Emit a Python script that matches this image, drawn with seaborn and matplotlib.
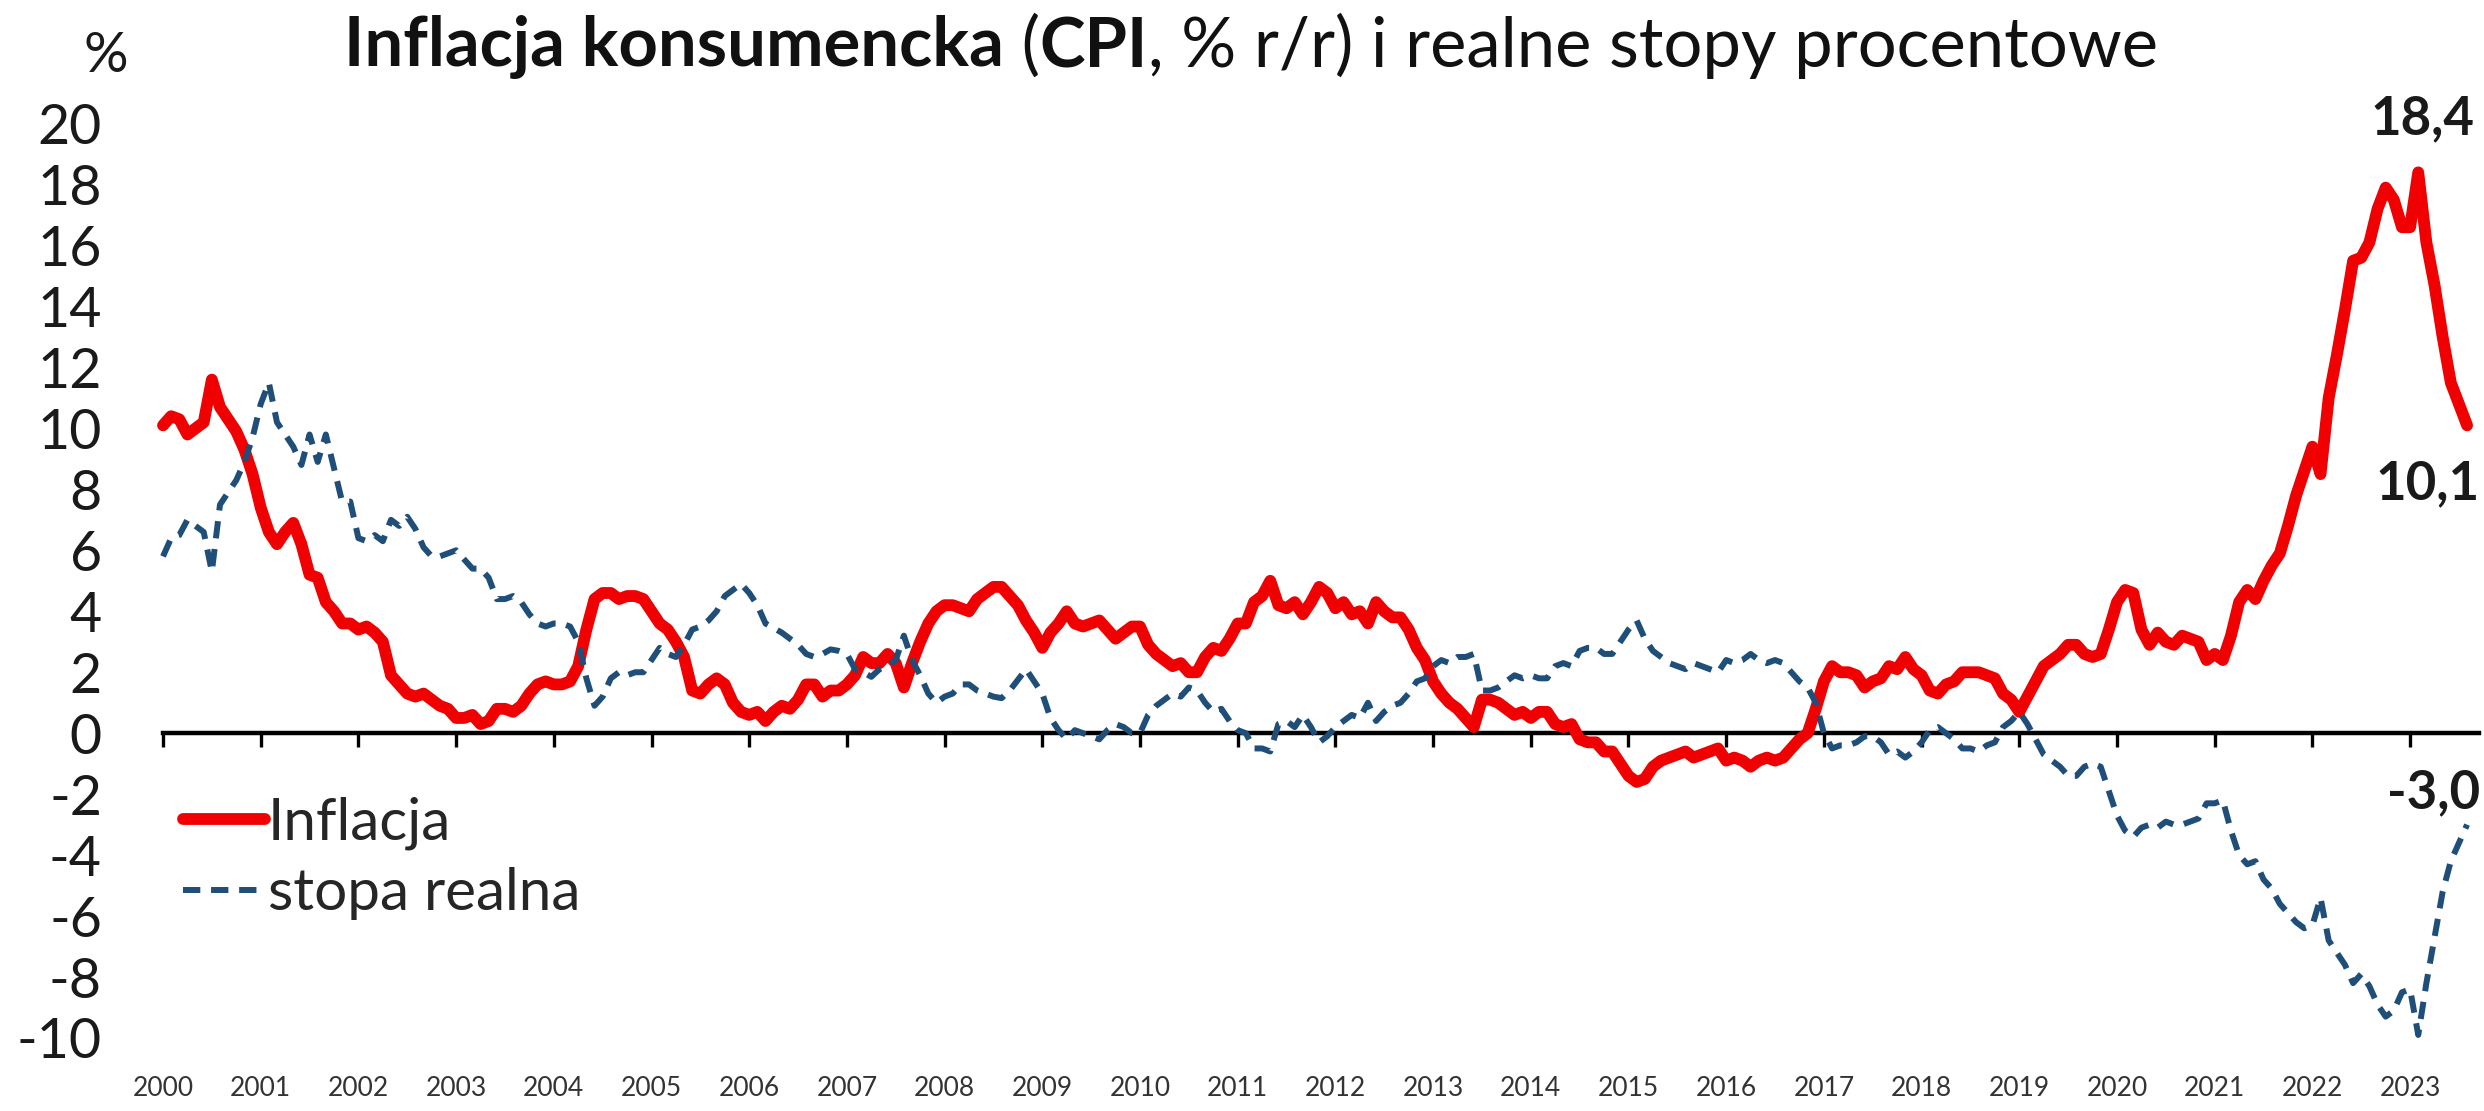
import pandas as pd
import matplotlib.pyplot as plt
import seaborn as sns

# CPI r/r, monthly Jan 2000 - Aug 2023
inflacja = [
    10.1, 10.4, 10.3, 9.8, 10.0, 10.2, 11.6, 10.7, 10.3, 9.9, 9.3, 8.5,   # 2000
    7.4, 6.6, 6.2, 6.6, 6.9, 6.2, 5.2, 5.1, 4.3, 4.0, 3.6, 3.6,           # 2001
    3.4, 3.5, 3.3, 3.0, 1.9, 1.6, 1.3, 1.2, 1.3, 1.1, 0.9, 0.8,           # 2002
    0.5, 0.5, 0.6, 0.3, 0.4, 0.8, 0.8, 0.7, 0.9, 1.3, 1.6, 1.7,           # 2003
    1.6, 1.6, 1.7, 2.2, 3.4, 4.4, 4.6, 4.6, 4.4, 4.5, 4.5, 4.4,           # 2004
    4.0, 3.6, 3.4, 3.0, 2.5, 1.4, 1.3, 1.6, 1.8, 1.6, 1.0, 0.7,           # 2005
    0.6, 0.7, 0.4, 0.7, 0.9, 0.8, 1.1, 1.6, 1.6, 1.2, 1.4, 1.4,           # 2006
    1.6, 1.9, 2.5, 2.3, 2.3, 2.6, 2.3, 1.5, 2.3, 3.0, 3.6, 4.0,           # 2007
    4.2, 4.2, 4.1, 4.0, 4.4, 4.6, 4.8, 4.8, 4.5, 4.2, 3.7, 3.3,           # 2008
    2.8, 3.3, 3.6, 4.0, 3.6, 3.5, 3.6, 3.7, 3.4, 3.1, 3.3, 3.5,           # 2009
    3.5, 2.9, 2.6, 2.4, 2.2, 2.3, 2.0, 2.0, 2.5, 2.8, 2.7, 3.1,           # 2010
    3.6, 3.6, 4.3, 4.5, 5.0, 4.2, 4.1, 4.3, 3.9, 4.3, 4.8, 4.6,           # 2011
    4.1, 4.3, 3.9, 4.0, 3.6, 4.3, 4.0, 3.8, 3.8, 3.4, 2.8, 2.4,           # 2012
    1.7, 1.3, 1.0, 0.8, 0.5, 0.2, 1.1, 1.1, 1.0, 0.8, 0.6, 0.7,           # 2013
    0.5, 0.7, 0.7, 0.3, 0.2, 0.3, -0.2, -0.3, -0.3, -0.6, -0.6, -1.0,     # 2014
    -1.4, -1.6, -1.5, -1.1, -0.9, -0.8, -0.7, -0.6, -0.8, -0.7, -0.6, -0.5,  # 2015
    -0.9, -0.8, -0.9, -1.1, -0.9, -0.8, -0.9, -0.8, -0.5, -0.2, 0.0, 0.8,    # 2016
    1.7, 2.2, 2.0, 2.0, 1.9, 1.5, 1.7, 1.8, 2.2, 2.1, 2.5, 2.1,           # 2017
    1.9, 1.4, 1.3, 1.6, 1.7, 2.0, 2.0, 2.0, 1.9, 1.8, 1.3, 1.1,           # 2018
    0.7, 1.2, 1.7, 2.2, 2.4, 2.6, 2.9, 2.9, 2.6, 2.5, 2.6, 3.4,           # 2019
    4.3, 4.7, 4.6, 3.4, 2.9, 3.3, 3.0, 2.9, 3.2, 3.1, 3.0, 2.4,           # 2020
    2.6, 2.4, 3.2, 4.3, 4.7, 4.4, 5.0, 5.5, 5.9, 6.8, 7.8, 8.6,           # 2021
    9.4, 8.5, 11.0, 12.4, 13.9, 15.5, 15.6, 16.1, 17.2, 17.9, 17.5, 16.6,  # 2022
    16.6, 18.4, 16.1, 14.7, 13.0, 11.5, 10.8, 10.1,                       # 2023
]

# real interest rate, same months
stopa_realna = [
    5.8, 6.4, 6.5, 7.0, 6.8, 6.6, 5.3, 7.5, 7.9, 8.3, 8.9, 9.7,           # 2000
    10.8, 11.5, 10.2, 9.8, 9.4, 8.8, 9.8, 8.9, 9.8, 8.7, 7.6, 7.6,        # 2001
    6.4, 6.3, 6.5, 6.3, 7.0, 6.8, 7.1, 6.7, 6.1, 5.8, 5.8, 5.9,           # 2002
    6.0, 5.7, 5.4, 5.4, 5.1, 4.4, 4.4, 4.5, 4.3, 3.9, 3.6, 3.5,           # 2003
    3.6, 3.6, 3.5, 3.0, 1.8, 0.9, 1.2, 1.8, 2.0, 1.9, 2.0, 2.0,           # 2004
    2.4, 2.8, 2.6, 2.5, 2.9, 3.4, 3.5, 3.7, 4.0, 4.5, 4.7, 4.9,           # 2005
    4.6, 4.2, 3.6, 3.45, 3.3, 3.1, 2.9, 2.6, 2.5, 2.6, 2.75, 2.7,         # 2006
    2.6, 2.1, 2.0, 1.85, 2.1, 2.2, 2.4, 3.2, 2.4, 1.9, 1.3, 1.0,          # 2007
    1.2, 1.3, 1.6, 1.6, 1.4, 1.3, 1.2, 1.15, 1.4, 1.75, 2.1, 1.7,         # 2008
    1.3, 0.5, 0.1, -0.2, 0.1, 0.0, -0.1, -0.2, 0.1, 0.3, 0.2, 0.0,        # 2009
    0.0, 0.6, 0.9, 1.1, 1.3, 1.2, 1.5, 1.4, 1.0, 0.7, 0.8, 0.4,           # 2010
    0.1, 0.0, -0.5, -0.5, -0.6, 0.3, 0.4, 0.2, 0.6, 0.2, -0.3, -0.1,      # 2011
    0.2, 0.4, 0.6, 0.5, 1.0, 0.4, 0.7, 0.9, 1.0, 1.3, 1.7, 1.8,           # 2012
    2.2, 2.4, 2.3, 2.5, 2.5, 2.6, 1.4, 1.4, 1.5, 1.7, 1.9, 1.8,           # 2013
    1.9, 1.8, 1.8, 2.2, 2.3, 2.2, 2.7, 2.8, 2.8, 2.6, 2.6, 3.0,           # 2014
    3.4, 3.7, 3.1, 2.7, 2.5, 2.3, 2.2, 2.1, 2.3, 2.2, 2.1, 2.0,           # 2015
    2.4, 2.3, 2.4, 2.6, 2.4, 2.3, 2.4, 2.3, 2.0, 1.7, 1.5, 1.0,           # 2016
    0.0, -0.5, -0.4, -0.4, -0.3, -0.1, -0.1, -0.3, -0.7, -0.6, -0.8, -0.6,   # 2017
    -0.3, 0.1, 0.2, 0.0, -0.2, -0.5, -0.5, -0.6, -0.4, -0.3, 0.2, 0.4,    # 2018
    0.7, 0.3, -0.2, -0.7, -0.9, -1.1, -1.4, -1.4, -1.1, -1.0, -1.1, -1.9,    # 2019
    -2.7, -3.2, -3.4, -3.1, -3.0, -3.1, -2.9, -3.0, -3.0, -2.9, -2.8, -2.3,  # 2020
    -2.3, -2.2, -3.2, -4.0, -4.3, -4.2, -4.8, -5.1, -5.6, -5.9, -6.2, -6.4,  # 2021
    -6.3, -5.4, -6.8, -7.2, -7.6, -8.2, -7.9, -8.3, -8.9, -9.3, -9.1, -8.5,  # 2022
    -8.4, -9.9, -8.2, -6.7, -5.2, -4.2, -3.6, -3.0,                       # 2023
]

lata = list(range(2000, 2024))
y_ticks = list(range(-10, 21, 2))

RED = '#F00000'
NAVY = '#1F4E79'
INK = '#1a1a1a'
W, H = 2484, 1111

sns.set_style('white')
plt.rcParams['font.family'] = ['Lato', 'DejaVu Sans']
plt.rcParams['axes.unicode_minus'] = False

miesiace = pd.date_range('2000-01-01', periods=len(inflacja), freq='MS')
df = pd.DataFrame({
    'data': miesiace.year + (miesiace.month - 1) / 12,
    'Inflacja': inflacja,
    'stopa realna': stopa_realna,
})

fig = plt.figure(figsize=(W / 100, H / 100), dpi=100)
ax = fig.add_axes([163 / W, (H - 1038) / H, (2479 - 163) / W, (1038 - 123.6) / H])

sns.lineplot(data=df, x='data', y='Inflacja', ax=ax, color=RED, linewidth=8.5)
sns.lineplot(data=df, x='data', y='stopa realna', ax=ax, color=NAVY, linewidth=4.3)
red_line, blue_line = ax.lines[0], ax.lines[1]
blue_line.set_dashes((2.9, 1.8))
for ln in ax.lines:
    ln.set_clip_on(False)
    ln.set_solid_joinstyle('round')

ax.set_xlim(2000, 2000 + (2479 - 163) / 97.7)
ax.set_ylim(-10, 20)
ax.set_xlabel('')
ax.set_ylabel('')

# axis line at zero with year ticks
for s in ['top', 'right', 'left']:
    ax.spines[s].set_visible(False)
ax.spines['bottom'].set_position(('data', 0))
ax.spines['bottom'].set_linewidth(3.2)
ax.spines['bottom'].set_color('black')
ax.spines['bottom'].set_zorder(1)
ax.set_xticks(lata)
ax.tick_params(axis='x', bottom=True, direction='out', length=10, width=2.4,
               color='black', labelbottom=False)
ax.set_yticks(y_ticks)
ax.set_yticklabels([str(v) for v in y_ticks])
ax.tick_params(axis='y', left=False, length=0, pad=44, labelsize=40, labelcolor=INK)

# year labels at the bottom of the plot
sec = ax.secondary_xaxis(0)
sec.set_xticks(lata)
sec.set_xticklabels([str(r) for r in lata])
sec.spines['bottom'].set_visible(False)
sec.tick_params(axis='x', length=0, pad=27, labelsize=19, labelcolor='#333333')

ax.legend([red_line, blue_line], ['Inflacja', 'stopa realna'], loc='center left',
          bbox_to_anchor=(183 / W, 1 - 858 / H), bbox_transform=fig.transFigure,
          frameon=False, fontsize=42, handlelength=1.4, handletextpad=0.05,
          borderpad=0, borderaxespad=0, labelspacing=0.3)

# value labels
last_x = df['data'].iloc[-1]
peak = df['Inflacja'].idxmax()
lbl = dict(textcoords='offset pixels', ha='center', va='center', fontsize=38,
           fontweight='bold', color=INK, annotation_clip=False)
ax.annotate('18,4', xy=(df['data'][peak], df['Inflacja'][peak]), xytext=(4, 54), **lbl)
ax.annotate('10,1', xy=(last_x, inflacja[-1]), xytext=(-40, -58), **lbl)
ax.annotate('-3,0', xy=(last_x, stopa_realna[-1]), xytext=(-34, 32), **lbl)

fig.text(106 / W, 1 - 57 / H, '%', fontsize=40, ha='center', va='center', color=INK)

# title with mixed bold / regular parts
parts = [('Inflacja konsumencka', 'bold'), (' (', 'normal'), ('CPI', 'bold'),
         (', % r/r) i realne stopy procentowe', 'normal')]
prev = fig.text(344 / W, 1 - 66 / H, parts[0][0], fontsize=49.5, fontweight=parts[0][1],
                ha='left', va='baseline', color='#111111')
for txt, wt in parts[1:]:
    prev = ax.annotate(txt, xy=(1, 0), xycoords=prev, ha='left', va='bottom',
                       fontsize=49.5, fontweight=wt, color='#111111', annotation_clip=False)

fig.savefig('out.png', dpi=100, facecolor='white')
